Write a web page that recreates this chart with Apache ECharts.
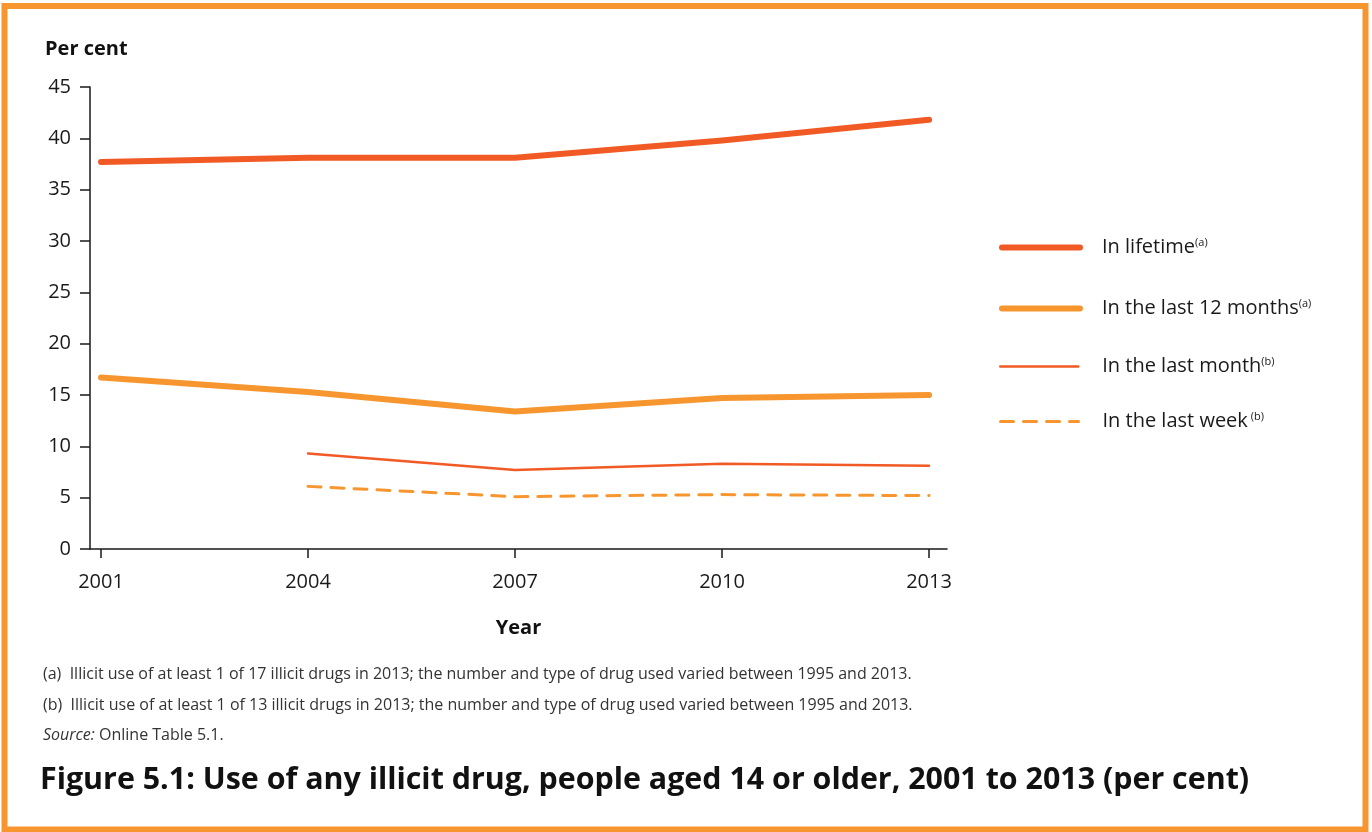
<!DOCTYPE html>
<html>
<head>
<meta charset="utf-8">
<script src="https://cdn.jsdelivr.net/npm/echarts@6/dist/echarts.min.js"></script>
<style>
html,body{margin:0;padding:0;background:#fff;}
#chart{width:1372px;height:832px;}
</style>
</head>
<body>
<div id="chart"></div>
<script>
// ---- data ----
const years = [2001, 2004, 2007, 2010, 2013];
const inLifetime = [37.7, 38.1, 38.1, 39.8, 41.8];
const last12Months = [16.7, 15.3, 13.4, 14.7, 15.0];
const lastMonth = [null, 9.3, 7.7, 8.3, 8.1];
const lastWeek = [null, 6.1, 5.1, 5.3, 5.2];
const yTicks = [0, 5, 10, 15, 20, 25, 30, 35, 40, 45];
const seriesNames = ['In lifetime', 'In the last 12 months', 'In the last month', 'In the last week'];
const seriesNotes = ['(a)', '(a)', '(b)', ' (b)'];
const footnotes = [
  '(a)  Illicit use of at least 1 of 17 illicit drugs in 2013; the number and type of drug used varied between 1995 and 2013.',
  '(b)  Illicit use of at least 1 of 13 illicit drugs in 2013; the number and type of drug used varied between 1995 and 2013.'
];
const sourceLabel = 'Source:';
const sourceText = ' Online Table 5.1.';
const titleText = 'Figure 5.1: Use of any illicit drug, people aged 14 or older, 2001 to 2013 (per cent)';

const RED = '#F15A24';
const ORANGE = '#F7962F';
const FONT = '"Open Sans", "Noto Sans", sans-serif';

function pairs(vals) {
  return years.map((y, i) => [y, vals[i]]).filter(p => p[1] !== null);
}

const chart = echarts.init(document.getElementById('chart'), null, {renderer: 'canvas'});

const styles = [
  {color: RED, width: 6, type: 'solid'},
  {color: ORANGE, width: 6, type: 'solid'},
  {color: RED, width: 2.5, type: 'solid'},
  {color: ORANGE, width: 3, type: [13, 10]}
];
const dataSets = [inLifetime, last12Months, lastMonth, lastWeek];
const legendTops = [247, 308, 366, 421];

const series = seriesNames.map((n, i) => ({
  name: n,
  type: 'line',
  data: pairs(dataSets[i]),
  symbol: 'none',
  showSymbol: false,
  lineStyle: {color: styles[i].color, width: styles[i].width, type: styles[i].type, cap: 'round', join: 'round'},
  itemStyle: {color: styles[i].color},
  emphasis: {disabled: true},
  z: 4 - i
}));

const legends = seriesNames.map((n, i) => ({
  data: [n],
  left: 999,
  top: legendTops[i] - 10,
  padding: 0,
  orient: 'vertical',
  itemWidth: 78,
  itemHeight: 14,
  itemGap: 0,
  selectedMode: false,
  itemStyle: {opacity: 0},
  lineStyle: {width: styles[i].width, type: styles[i].type, color: styles[i].color, cap: 'round'},
  formatter: name => '{n|' + name + '}{s|' + seriesNotes[i] + '}',
  textStyle: {
    color: '#1a1a1a',
    fontFamily: FONT,
    rich: {
      n: {fontSize: 20, fontFamily: FONT, color: '#1a1a1a', padding: [0, 0, 0, i < 2 ? 17 : 19]},
      s: {fontSize: 11, fontFamily: FONT, color: '#1a1a1a', padding: [0, 0, 10, 0]}
    }
  }
}));

const option = {
  animation: false,
  backgroundColor: '#fff',
  textStyle: {fontFamily: FONT},
  grid: {left: 90, right: 425, top: 87, bottom: 283, containLabel: false},
  legend: legends,
  xAxis: {
    type: 'value',
    min: 2000.84,
    max: 2013.26,
    name: 'Year',
    nameLocation: 'middle',
    nameGap: 69,
    nameTextStyle: {fontSize: 20, fontWeight: 'bold', color: '#111', fontFamily: FONT},
    axisLine: {show: true, onZero: false, lineStyle: {color: '#1a1a1a', width: 1.5}},
    axisTick: {show: true, length: 9, customValues: years, lineStyle: {color: '#1a1a1a', width: 1.5}},
    axisLabel: {customValues: years, fontSize: 20, color: '#1a1a1a', margin: 23, fontFamily: FONT, formatter: v => String(v)},
    splitLine: {show: false}
  },
  yAxis: {
    type: 'value',
    min: 0,
    max: 45,
    interval: 5,
    axisLine: {show: true, lineStyle: {color: '#1a1a1a', width: 1.5}},
    axisTick: {show: true, length: 10, customValues: yTicks, lineStyle: {color: '#1a1a1a', width: 1.5}},
    axisLabel: {customValues: yTicks, fontSize: 20, color: '#1a1a1a', margin: 19, fontFamily: FONT},
    splitLine: {show: false}
  },
  series: series,
  graphic: [
    {type: 'rect', shape: {x: 4.5, y: 6, width: 1361, height: 823.5}, style: {fill: 'none', stroke: ORANGE, lineWidth: 6}, silent: true},
    {type: 'text', left: 45, top: 39, style: {text: 'Per cent', font: 'bold 20px ' + FONT, fill: '#111'}},
    {type: 'text', left: 43, top: 666, style: {text: footnotes[0], font: '16px ' + FONT, fill: '#333'}},
    {type: 'text', left: 43, top: 697, style: {text: footnotes[1], font: '16px ' + FONT, fill: '#333'}},
    {type: 'text', left: 43, top: 727, style: {
      text: '{i|' + sourceLabel + '}{r|' + sourceText + '}',
      rich: {
        i: {font: 'italic 16px ' + FONT, fill: '#333'},
        r: {font: '16px ' + FONT, fill: '#333'}
      }
    }},
    {type: 'text', left: 40, top: 765, style: {text: titleText, font: 'bold 30.4px ' + FONT, fill: '#111'}}
  ]
};
chart.setOption(option);
</script>
</body>
</html>
